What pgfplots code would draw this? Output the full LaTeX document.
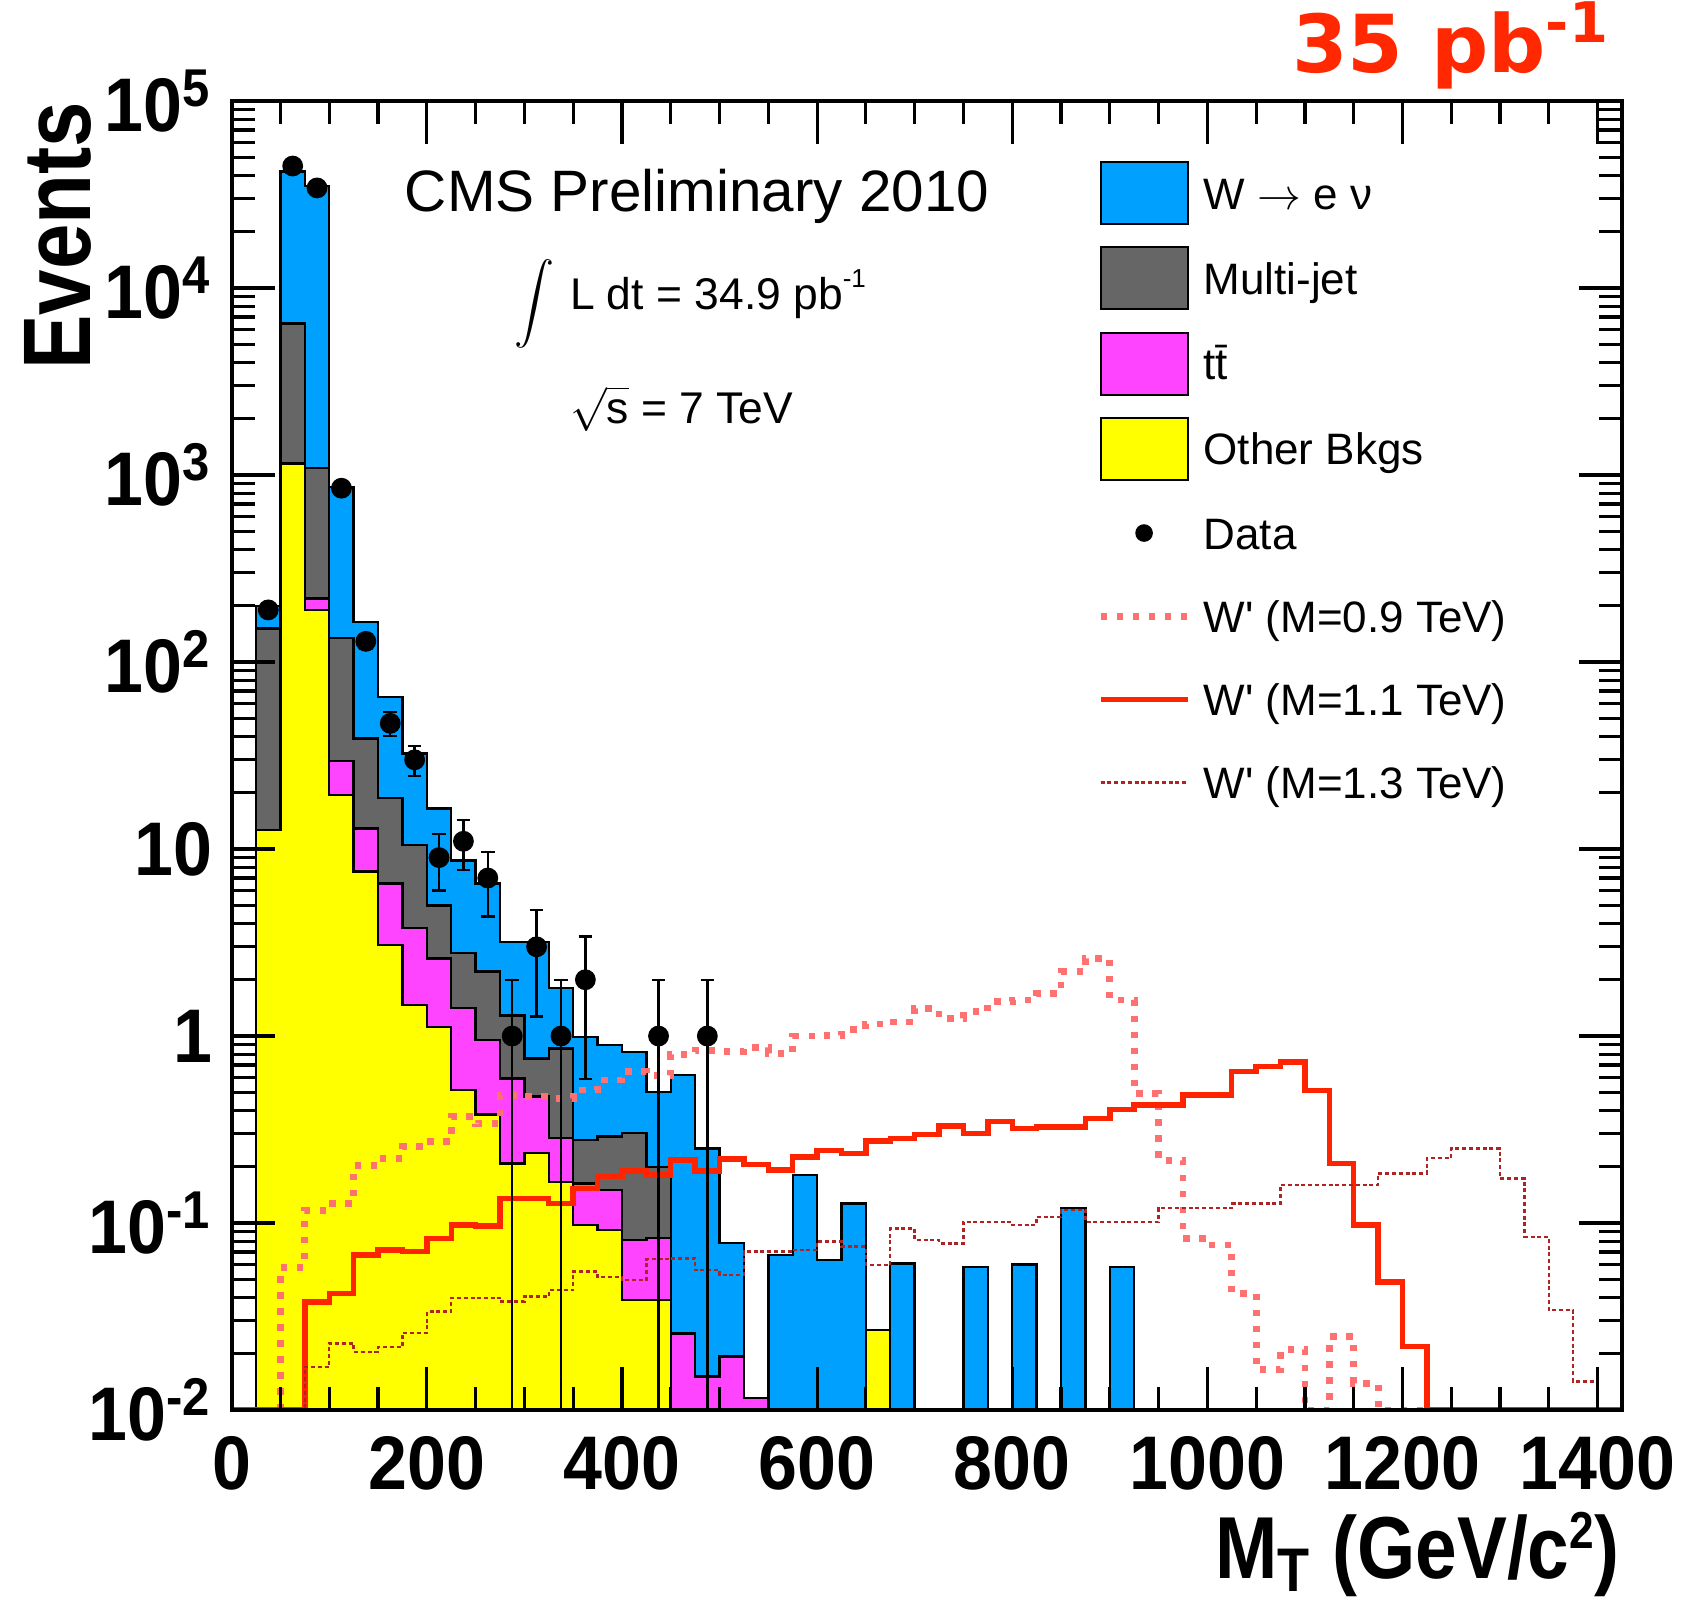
\documentclass[border=0pt]{standalone}
\usepackage{graphicx}
\usepackage{fontspec}
\setmainfont{Liberation Sans}
\newfontfamily\stretchfam{Liberation Sans}[FakeStretch=0.85]
\newfontfamily\tickfam{Liberation Sans}[FakeStretch=0.92]
\newfontfamily\pbfam{DejaVu Sans}
\usepackage{pgfplots}
\pgfplotsset{compat=1.18}

\definecolor{wblue}{RGB}{0,160,255}
\definecolor{mjgray}{RGB}{102,102,102}
\definecolor{ttmag}{RGB}{255,68,255}
\definecolor{othyel}{RGB}{255,255,0}
\definecolor{wnine}{RGB}{255,112,112}
\definecolor{weleven}{RGB}{255,36,0}
\definecolor{wthirteen}{RGB}{175,35,35}
\definecolor{lumred}{RGB}{255,40,0}

\newcommand\tickfont{\tickfam\bfseries\fontsize{19}{21}\selectfont}
\newcommand\legfont{\fontsize{11}{13}\selectfont}

\pgfplotsset{
 legW/.style={legend image code/.code={\draw[fill=wblue,draw=black,line width=0.5pt] (0pt,-7.75pt) rectangle (21.75pt,7.75pt); \path[draw=none,fill=none] (0pt,-7.75pt) rectangle (25.75pt,7.75pt);}},
 legM/.style={legend image code/.code={\draw[fill=mjgray,draw=black,line width=0.5pt] (0pt,-7.75pt) rectangle (21.75pt,7.75pt); \path[draw=none,fill=none] (0pt,-7.75pt) rectangle (25.75pt,7.75pt);}},
 legT/.style={legend image code/.code={\draw[fill=ttmag,draw=black,line width=0.5pt] (0pt,-7.75pt) rectangle (21.75pt,7.75pt); \path[draw=none,fill=none] (0pt,-7.75pt) rectangle (25.75pt,7.75pt);}},
 legY/.style={legend image code/.code={\draw[fill=othyel,draw=black,line width=0.5pt] (0pt,-7.75pt) rectangle (21.75pt,7.75pt); \path[draw=none,fill=none] (0pt,-7.75pt) rectangle (25.75pt,7.75pt);}},
 legD/.style={legend image code/.code={\fill[black] (10.875pt,0pt) circle (2pt); \path[draw=none,fill=none] (0pt,-7.75pt) rectangle (25.75pt,7.75pt);}},
 legA/.style={legend image code/.code={\draw[wnine,line width=1.7pt,dash pattern=on 1.6pt off 2.4pt] (0pt,0pt) -- (21.75pt,0pt); \path[draw=none,fill=none] (0pt,-7.75pt) rectangle (25.75pt,7.75pt);}},
 legB/.style={legend image code/.code={\draw[weleven,line width=1.35pt] (0pt,0pt) -- (21.75pt,0pt); \path[draw=none,fill=none] (0pt,-7.75pt) rectangle (25.75pt,7.75pt);}},
 legC/.style={legend image code/.code={\draw[wthirteen,line width=0.6pt,dash pattern=on 1pt off 0.7pt] (0pt,0pt) -- (21.75pt,0pt); \path[draw=none,fill=none] (0pt,-7.75pt) rectangle (25.75pt,7.75pt);}},
}

\begin{document}
\begin{tikzpicture}
\begin{axis}[
 at={(0pt,0pt)}, anchor=south west,
 scale only axis, width=347.575pt, height=327.25pt,
 xmin=0, xmax=1425, ymode=log, ymin=0.01, ymax=100000,
 axis on top, clip=true,
 axis line style={line width=0.9pt},
 every tick/.style={black, line width=0.8pt},
 major tick length=10.75pt, minor tick length=5.75pt,
 xtick={0,200,400,600,800,1000,1200,1400}, minor x tick num=3,
 xticklabels={0,200,400,600,800,1000,1200,1400},
 ytick={0.01,0.1,1,10,100,1000,10000,100000},
 yticklabels={10\textsuperscript{-2},10\textsuperscript{-1},1,10,10\textsuperscript{2},10\textsuperscript{3},10\textsuperscript{4},10\textsuperscript{5}},
 minor ytick={0.02,0.03,0.04,0.05,0.06,0.07,0.08,0.09,0.2,0.3,0.4,0.5,0.6,0.7,0.8,0.9,2,3,4,5,6,7,8,9,20,30,40,50,60,70,80,90,200,300,400,500,600,700,800,900,2000,3000,4000,5000,6000,7000,8000,9000,20000,30000,40000,50000,60000,70000,80000,90000},
 tick label style={font=\tickfont},
 xticklabel style={inner sep=0pt, anchor=north, yshift=-6.5pt},
 yticklabel style={inner sep=0pt, anchor=east, xshift=-4.75pt},
 legend cell align=left,
 legend style={at={(0.6225,0.9540)}, anchor=north west, draw=none, fill=none, inner sep=0pt, outer sep=0pt, row sep=5.3pt, column sep=0pt, font=\legfont, nodes={inner sep=0pt, text height=8pt, text depth=0pt}, cells={anchor=west}},
]
% W -> e nu (total stack)
\addplot[forget plot, const plot mark left, fill=wblue, draw=black, line width=0.6pt] coordinates {
(25,0.005)(25,200)(50,42000)(75,35000)(100,860)(125,164)(150,65)(175,32.5)(200,16.5)(225,8.7)(250,6.55)(275,3.19)(300,3.19)(325,1.80)(350,0.99)(375,0.895)(400,0.824)(425,0.503)(450,0.618)(475,0.25)(500,0.078)(525,0.0116)(550,0.0675)(575,0.181)(600,0.0634)(625,0.127)(650,0.0268)(675,0.0608)(700,0.005)(750,0.0583)(775,0.005)(800,0.06)(825,0.005)(850,0.12)(875,0.005)(900,0.058)(925,0.058)(925,0.005)};
% Multi-jet
\addplot[forget plot, const plot mark left, fill=mjgray, draw=black, line width=0.6pt] coordinates {
(25,0.005)(25,151)(50,6470)(75,1090)(100,134)(125,39)(150,18.7)(175,10.5)(200,5.0)(225,2.77)(250,2.21)(275,1.29)(300,0.76)(325,0.859)(350,0.278)(375,0.29)(400,0.302)(425,0.2)(450,0.0257)(475,0.0151)(500,0.0193)(525,0.0116)(550,0.005)(650,0.0268)(675,0.0268)(675,0.005)};
% ttbar
\addplot[forget plot, const plot mark left, fill=ttmag, draw=black, line width=0.6pt] coordinates {
(25,0.005)(25,12.6)(50,1160)(75,219)(100,29.5)(125,12.9)(150,6.55)(175,3.77)(200,2.6)(225,1.41)(250,0.95)(275,0.594)(300,0.474)(325,0.284)(350,0.163)(375,0.15)(400,0.081)(425,0.083)(450,0.0257)(475,0.0151)(500,0.0193)(525,0.0116)(550,0.005)(650,0.0268)(675,0.0268)(675,0.005)};
% Other backgrounds
\addplot[forget plot, const plot mark left, fill=othyel, draw=black, line width=0.6pt] coordinates {
(25,0.005)(25,12.6)(50,1150)(75,190)(100,19.5)(125,7.6)(150,3.07)(175,1.47)(200,1.12)(225,0.514)(250,0.38)(275,0.208)(300,0.236)(325,0.166)(350,0.0975)(375,0.0916)(400,0.0387)(425,0.0387)(450,0.005)(650,0.0268)(675,0.0268)(675,0.005)};
% W' M=0.9 TeV
\addplot[forget plot, const plot mark left, wnine, line width=1.7pt, dash pattern=on 1.6pt off 2.4pt] coordinates {
(0,0.01)(50,0.058)(75,0.117)(100,0.127)(125,0.204)(150,0.222)(175,0.256)(200,0.272)(225,0.37)(250,0.34)(275,0.483)(300,0.473)(325,0.464)(350,0.514)(375,0.582)(400,0.644)(425,0.618)(450,0.8)(475,0.84)(500,0.83)(525,0.87)(550,0.807)(575,1.0)(600,1.01)(625,1.08)(650,1.16)(675,1.19)(700,1.4)(725,1.24)(750,1.35)(775,1.53)(800,1.56)(825,1.69)(850,2.21)(875,2.6)(900,1.56)(925,0.494)(950,0.217)(975,0.0828)(1000,0.0763)(1025,0.042)(1050,0.0164)(1075,0.021)(1100,0.01)(1125,0.0247)(1150,0.0139)(1175,0.01)(1425,0.01)};
% W' M=1.1 TeV
\addplot[forget plot, const plot mark left, weleven, line width=1.35pt] coordinates {
(0,0.01)(75,0.0379)(100,0.042)(125,0.0675)(150,0.0718)(175,0.0703)(200,0.0828)(225,0.0975)(250,0.0965)(275,0.1355)(325,0.127)(350,0.153)(375,0.177)(400,0.19)(425,0.181)(450,0.217)(475,0.19)(500,0.22)(525,0.206)(550,0.192)(575,0.226)(600,0.245)(625,0.236)(650,0.275)(675,0.284)(700,0.298)(725,0.33)(750,0.302)(775,0.348)(800,0.321)(825,0.327)(875,0.363)(900,0.405)(925,0.428)(975,0.483)(1025,0.644)(1050,0.685)(1075,0.727)(1100,0.513)(1125,0.208)(1150,0.0975)(1175,0.0485)(1200,0.0218)(1225,0.01)(1425,0.01)};
% W' M=1.3 TeV
\addplot[forget plot, const plot mark left, wthirteen, line width=0.6pt, dash pattern=on 1pt off 0.7pt] coordinates {
(0,0.01)(75,0.017)(100,0.0227)(125,0.0205)(150,0.0218)(175,0.0258)(200,0.0336)(225,0.0396)(250,0.0398)(275,0.038)(300,0.0404)(325,0.0438)(350,0.055)(375,0.0516)(400,0.0495)(425,0.064)(450,0.0647)(475,0.056)(500,0.0527)(525,0.0703)(575,0.0718)(600,0.0795)(625,0.0748)(650,0.0597)(675,0.0937)(700,0.081)(725,0.0778)(750,0.1015)(800,0.0975)(825,0.108)(850,0.117)(875,0.1015)(950,0.12)(1025,0.127)(1075,0.16)(1175,0.184)(1225,0.222)(1250,0.25)(1300,0.173)(1325,0.0845)(1350,0.0342)(1375,0.0142)(1400,0.01)(1425,0.01)};
% Data
\addplot[forget plot, only marks, mark=*, mark size=2.4pt, black,
 error bars/.cd, y dir=both, y explicit,
 error bar style={line width=0.6pt, black},
 error mark options={rotate=90, black, mark size=1.7pt, line width=0.6pt}] coordinates {
(37.5,190) +- (0,13.8)
(62.5,44900) +- (0,212)
(87.5,34300) +- (0,185)
(112.5,850) +- (0,29)
(137.5,129) +- (0,11.4)
(162.5,47) +- (0,6.9)
(187.5,30) +- (0,5.5)
(212.5,9) +- (0,3)
(237.5,11) +- (0,3.3)
(262.5,7) +- (0,2.65)
(287.5,1) += (0,1) -= (0,0.999)
(312.5,3) +- (0,1.73)
(337.5,1) += (0,1) -= (0,0.999)
(362.5,2) +- (0,1.41)
(437.5,1) += (0,1) -= (0,0.999)
(487.5,1) += (0,1) -= (0,0.999)
};
\addlegendimage{legW}\addlegendentry{W $\rightarrow$ e ν}
\addlegendimage{legM}\addlegendentry{Multi-jet}
\addlegendimage{legT}\addlegendentry{t\={t}}
\addlegendimage{legY}\addlegendentry{Other Bkgs}
\addlegendimage{legD}\addlegendentry{Data}
\addlegendimage{legA}\addlegendentry{W\textquotesingle{} (M=0.9 TeV)}
\addlegendimage{legB}\addlegendentry{W\textquotesingle{} (M=1.1 TeV)}
\addlegendimage{legC}\addlegendentry{W\textquotesingle{} (M=1.3 TeV)}
\end{axis}
\begin{scope}[x=0.25pt, y=-0.25pt, shift={(-57.925pt,352.5pt)}, every node/.style={inner sep=0pt, outer sep=0pt}]
 \node[anchor=base, font=\fontsize{14.6}{17}\selectfont] at (697,211) {CMS Preliminary 2010};
 \node[anchor=center] at (534,304) {$\displaystyle\int$};
 \node[anchor=base west, font=\fontsize{11.1}{13}\selectfont] at (570,309) {L dt = 34.9 pb\raisebox{5.5pt}{\fontsize{6.5}{7}\selectfont -1}};
 \node[anchor=base west, font=\fontsize{11.1}{13}\selectfont] at (570,423) {$\sqrt{\mbox{s}}$ = 7 TeV};
 \node[anchor=base east, text=lumred, font=\pbfam\bfseries\fontsize{20}{24}\selectfont] at (1610,73) {35 pb\textsuperscript{-1}};
 \node[rotate=90, anchor=base east, font=\stretchfam\bfseries\fontsize{24}{28}\selectfont] at (91,102) {Events};
 \node[anchor=base east, font=\stretchfam\bfseries\fontsize{22}{26}\selectfont] at (1619,1578) {M\textsubscript{T} (GeV/c\raisebox{0.33em}{\fontsize{13}{13}\selectfont 2})};
 \pgfresetboundingbox
 \useasboundingbox (0,0) rectangle (1687,1600);
\end{scope}
\end{tikzpicture}
\end{document}
